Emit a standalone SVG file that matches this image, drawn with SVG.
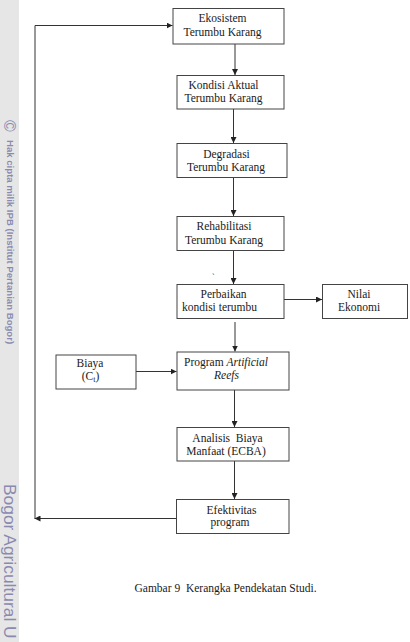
<svg xmlns="http://www.w3.org/2000/svg" width="410" height="642" viewBox="0 0 410 642">
<defs>
<style>
.box{fill:#fff;stroke:#444;stroke-width:1}
.t{font-family:"Liberation Serif","Times New Roman",serif;font-size:11.5px;fill:#1a1a1a;text-anchor:middle}
.c{fill:none;stroke:#333;stroke-width:1}
.wm{font-family:"Liberation Sans",Arial,sans-serif;fill:#8a8ab0}
</style>
<marker id="ah" viewBox="0 0 6 6" refX="6" refY="3" markerWidth="6" markerHeight="6" markerUnits="userSpaceOnUse" orient="auto">
<path d="M0,0 L6,3 L0,6 z" fill="#222"/>
</marker>
</defs>
<rect width="410" height="642" fill="#fff"/>
<g id="watermark">
<rect x="0" y="0" width="19" height="642" fill="#e6e6e6"/>
<text class="wm" transform="translate(3.5,120) rotate(90)" font-size="16">©</text>
<text class="wm" transform="translate(6.5,140) rotate(90)" font-size="9.6" font-weight="bold">Hak cipta milik IPB (Institut Pertanian Bogor)</text>
<text class="wm" transform="translate(4,484) rotate(90)" font-size="17.4">Bogor Agricultural U</text>
</g>
<g id="connectors">
<path class="c" d="M235,44 V75" marker-end="url(#ah)"/>
<path class="c" d="M233.5,109 V143" marker-end="url(#ah)"/>
<path class="c" d="M233.5,177.5 V216" marker-end="url(#ah)"/>
<path class="c" d="M233.5,251 V284" marker-end="url(#ah)"/>
<path class="c" d="M284,299.5 H322" marker-end="url(#ah)"/>
<path class="c" d="M235,322 V351.5" marker-end="url(#ah)"/>
<path class="c" d="M136,371.5 H176.5" marker-end="url(#ah)"/>
<path class="c" d="M234.5,390 V427" marker-end="url(#ah)"/>
<path class="c" d="M234.5,461 V499" marker-end="url(#ah)"/>
<path class="c" d="M176,518.5 H34.5" marker-end="url(#ah)"/>
<path class="c" d="M35,518.5 V25.5 H172.5" marker-end="url(#ah)"/>
</g>
<g id="n-ekosistem">
<rect class="box" x="173" y="8.5" width="111" height="35.5"/>
<text class="t" x="222.5" y="22">Ekosistem</text>
<text class="t" x="222.5" y="36">Terumbu Karang</text>
</g>
<g id="n-kondisi">
<rect class="box" x="177" y="75.5" width="107" height="33.5"/>
<text class="t" x="223.5" y="88.5">Kondisi Aktual</text>
<text class="t" x="223.5" y="102">Terumbu Karang</text>
</g>
<g id="n-degradasi">
<rect class="box" x="177" y="143.5" width="110" height="34"/>
<text class="t" x="226.5" y="158">Degradasi</text>
<text class="t" x="226" y="171">Terumbu Karang</text>
</g>
<g id="n-rehabilitasi">
<rect class="box" x="177" y="216.5" width="107" height="34"/>
<text class="t" x="224" y="229.5">Rehabilitasi</text>
<text class="t" x="224" y="243.5">Terumbu Karang</text>
</g>
<text x="212" y="280" font-family="Liberation Serif,serif" font-size="8" fill="#333">`</text>
<g id="n-perbaikan">
<rect class="box" x="177" y="284.5" width="107" height="34"/>
<text class="t" x="223.5" y="298">Perbaikan</text>
<text class="t" x="219.5" y="311">kondisi terumbu</text>
</g>
<g id="n-nilai">
<rect class="box" x="322.5" y="284.5" width="85" height="34"/>
<text class="t" x="359" y="298">Nilai</text>
<text class="t" x="359" y="311">Ekonomi</text>
</g>
<g id="n-biaya">
<rect class="box" x="56" y="355" width="80" height="34"/>
<text class="t" x="90" y="367">Biaya</text>
<text class="t" x="90.5" y="380">(C<tspan font-size="8" dy="2">t</tspan><tspan dy="-2">)</tspan></text>
</g>
<g id="n-program">
<rect class="box" x="177" y="352" width="112" height="38"/>
<text class="t" x="226" y="366">Program <tspan font-style="italic">Artificial</tspan></text>
<text class="t" x="226.5" y="378.5" font-style="italic">Reefs</text>
</g>
<g id="n-analisis">
<rect class="box" x="177" y="427.5" width="112" height="33.5"/>
<text class="t" x="227.5" y="442" xml:space="preserve">Analisis  Biaya</text>
<text class="t" x="226" y="454.5">Manfaat (ECBA)</text>
</g>
<g id="n-efektivitas">
<rect class="box" x="176.5" y="499.5" width="112.5" height="34"/>
<text class="t" x="231.5" y="513.5">Efektivitas</text>
<text class="t" x="230" y="525.5">program</text>
</g>
<text class="t" x="225.5" y="592" xml:space="preserve">Gambar 9  Kerangka Pendekatan Studi.</text>
</svg>
